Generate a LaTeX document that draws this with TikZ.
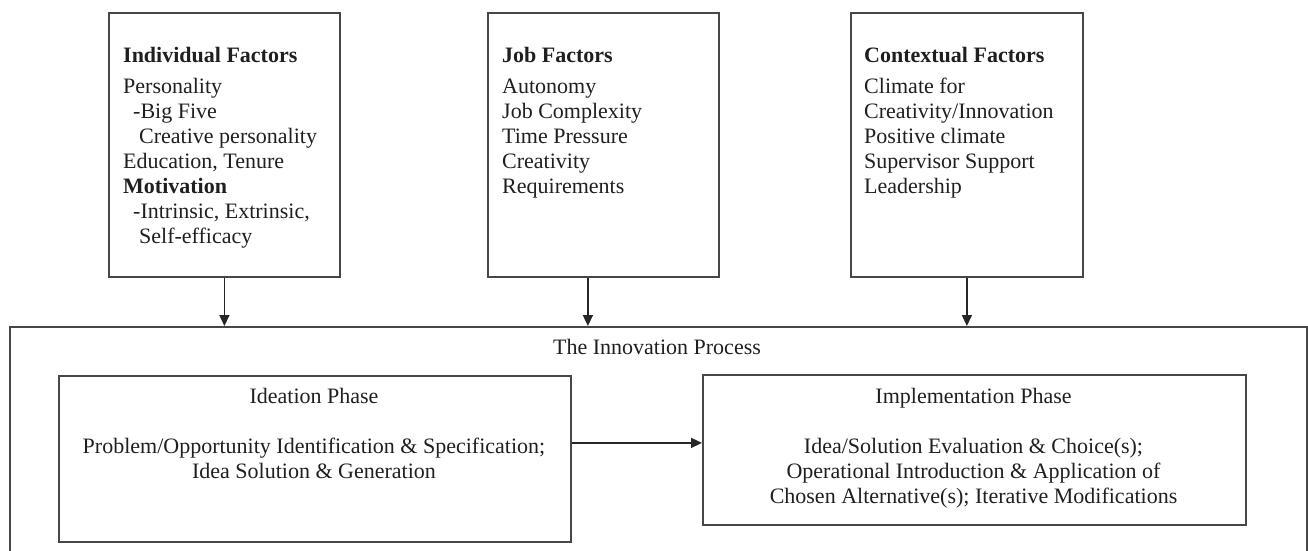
\documentclass[tikz,border=0pt]{standalone}
\usepackage{fontspec}
\setmainfont{Liberation Serif}
\usetikzlibrary{arrows.meta}
\begin{document}
\begin{tikzpicture}[x=1pt,y=-1pt,
  frame/.style={draw=black!72, line width=1.8pt, inner sep=0pt, anchor=north west},
  bodytext/.style={font=\fontsize{22}{25}\selectfont, inner sep=0pt, text=black!88},
  flow/.style={draw=black!85, line width=1.6pt, -{Triangle[length=11pt,width=10pt]}},
]
\useasboundingbox (0,0) rectangle (1308,551);
\clip (0,0) rectangle (1308,551);

% factor boxes along the top
\node[frame, minimum width=231pt, minimum height=264pt] (indiv) at (108,12) {};
\node[frame, minimum width=231pt, minimum height=264pt] (job) at (487,12) {};
\node[frame, minimum width=232pt, minimum height=264pt] (context) at (850,12) {};

\node[bodytext, align=left, anchor=north west] (indivtext) at (123,47)
  {\textbf{Individual Factors}\\[6pt]
   Personality\\
   \hspace*{10pt}-Big Five\\
   \hspace*{16pt}Creative personality\\
   Education, Tenure\\
   \textbf{Motivation}\\
   \hspace*{10pt}-Intrinsic, Extrinsic,\\
   \hspace*{16pt}Self-efficacy};
\node[bodytext, align=left, anchor=north west] (jobtext) at (502,47)
  {\textbf{Job Factors}\\[6pt]
   Autonomy\\
   Job Complexity\\
   Time Pressure\\
   Creativity\\
   Requirements};
\node[bodytext, align=left, anchor=north west] (contexttext) at (864,47)
  {\textbf{Contextual Factors}\\[6pt]
   Climate for\\
   Creativity/Innovation\\
   Positive climate\\
   Supervisor Support\\
   Leadership};

% the innovation process and its two phases
\node[frame, minimum width=1297pt, minimum height=260pt] (process) at (9,326) {};
\node[bodytext, anchor=north] (proclabel) at (657,339) {The Innovation Process};

\node[frame, minimum width=512pt, minimum height=166pt] (ideation) at (58,375) {};
\node[frame, minimum width=543pt, minimum height=150pt] (implementation) at (702,374) {};

\node[bodytext, align=center, anchor=north] (ideatext) at (314,388)
  {Ideation Phase\\[25pt]
   Problem/Opportunity Identification \& Specification;\\
   Idea Solution \& Generation};
\node[bodytext, align=center, anchor=north] (impltext) at (973.5,388)
  {Implementation Phase\\[25pt]
   Idea/Solution Evaluation \& Choice(s);\\
   Operational Introduction \& Application of\\
   Chosen Alternative(s); Iterative Modifications};

% connectors
\draw[flow] (indiv.south) -- (indiv.south |- process.north);
\coordinate (jobout) at ([xshift=-15.5pt]job.south);
\draw[flow] (jobout) -- (jobout |- process.north);
\draw[flow] (context.south) -- (context.south |- process.north);
\coordinate (phaselink) at ([yshift=16pt]ideation.east);
\draw[flow] (phaselink) -- (phaselink -| implementation.west);
\end{tikzpicture}
\end{document}
